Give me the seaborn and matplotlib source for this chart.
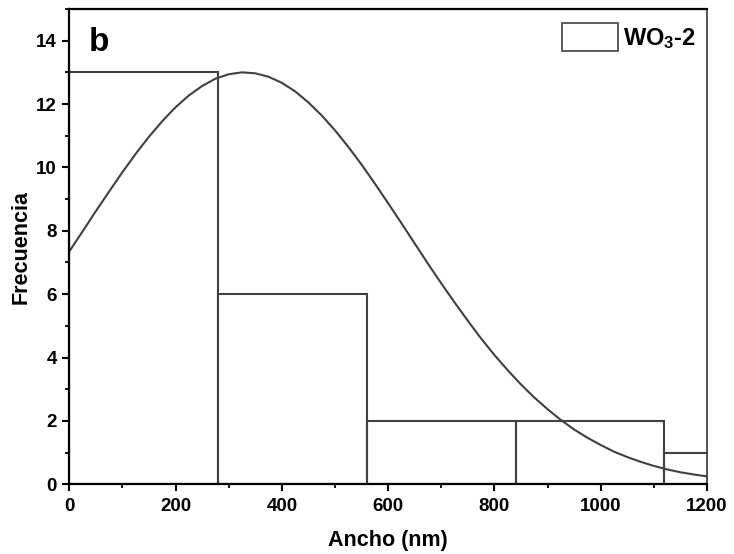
import numpy as np
import pandas as pd
import matplotlib
matplotlib.use("Agg")
import matplotlib.pyplot as plt
import seaborn as sns
from matplotlib.patches import Patch
from matplotlib.ticker import MultipleLocator

# --- DATA ---
bin_edges = [0, 280, 560, 840, 1120, 1400]
bin_counts = [13, 6, 2, 2, 1]
bin_centers = [140, 420, 700, 980, 1260]

# fitted normal curve
curve_x = [0, 25, 50, 75, 100, 125, 150, 175, 200, 225, 250, 275, 300,
           325, 350, 375, 400, 425, 450, 475, 500, 525, 550, 575, 600,
           625, 650, 675, 700, 725, 750, 775, 800, 825, 850, 875, 900,
           925, 950, 975, 1000, 1025, 1050, 1075, 1100, 1125, 1150, 1175, 1200]
curve_y = [7.35, 7.98, 8.62, 9.24, 9.85, 10.43, 10.97, 11.46, 11.90, 12.27,
           12.57, 12.80, 12.94, 13.00, 12.97, 12.86, 12.67, 12.40, 12.05, 11.64,
           11.17, 10.65, 10.09, 9.49, 8.87, 8.24, 7.60, 6.96, 6.34, 5.74,
           5.16, 4.60, 4.08, 3.60, 3.15, 2.74, 2.37, 2.03, 1.73, 1.47,
           1.24, 1.03, 0.86, 0.71, 0.58, 0.47, 0.38, 0.31, 0.25]

series_label = "WO$_\\mathbf{3}$-2"
panel_label = "b"

# --- STYLE ---
sns.set_style("ticks")
plt.rcParams['font.family'] = ['Liberation Sans', 'DejaVu Sans']
plt.rcParams['font.weight'] = 'bold'
plt.rcParams['text.color'] = 'black'
plt.rcParams['axes.labelcolor'] = 'black'
plt.rcParams['xtick.color'] = 'black'
plt.rcParams['ytick.color'] = 'black'
plt.rcParams['mathtext.fontset'] = 'custom'
plt.rcParams['mathtext.rm'] = 'Liberation Sans:bold'
plt.rcParams['mathtext.bf'] = 'Liberation Sans:bold'
plt.rcParams['mathtext.it'] = 'Liberation Sans:bold'

line_col = "#404040"

fig = plt.figure(figsize=(7.34, 5.54), dpi=100)
ax = fig.add_axes([0.0944, 0.1258, 0.8688, 0.858])

hist_df = pd.DataFrame({"ancho": bin_centers, "n": bin_counts})
sns.histplot(data=hist_df, x="ancho", weights="n", bins=bin_edges,
             fill=False, element="bars", color=line_col, linewidth=1.5, ax=ax)

curve_df = pd.DataFrame({"x": curve_x, "y": curve_y})
sns.lineplot(data=curve_df, x="x", y="y", color=line_col, linewidth=1.5, ax=ax)

ax.set_xlim(0, 1200)
ax.set_ylim(0, 15)
ax.xaxis.set_major_locator(MultipleLocator(200))
ax.xaxis.set_minor_locator(MultipleLocator(100))
ax.yaxis.set_major_locator(MultipleLocator(2))
ax.yaxis.set_minor_locator(MultipleLocator(1))
ax.tick_params(which='major', direction='out', length=5, width=1.5,
               labelsize=13.5, pad=4)
ax.tick_params(axis='x', which='major', pad=5)
ax.tick_params(which='minor', direction='out', length=3, width=1.3)
for lbl in ax.get_xticklabels() + ax.get_yticklabels():
    lbl.set_fontweight('bold')

for side in ['left', 'bottom', 'top']:
    ax.spines[side].set_linewidth(1.6)
    ax.spines[side].set_color('black')
ax.spines['right'].set_linewidth(1.2)
ax.spines['right'].set_color('#333333')

ax.set_xlabel("Ancho (nm)", fontsize=15.5, fontweight='bold', labelpad=11)
ax.set_ylabel("Frecuencia", fontsize=15.5, fontweight='bold', labelpad=3.5)

ax.text(0.031, 0.962, panel_label, transform=ax.transAxes, fontsize=24,
        fontweight='bold', va='top', ha='left')

handle = Patch(facecolor='white', edgecolor=line_col, linewidth=1.2)
leg = ax.legend([handle], [series_label], loc='upper right',
                bbox_to_anchor=(1.0, 0.992), frameon=False,
                handlelength=2.35, handleheight=1.45, handletextpad=0.25,
                borderpad=0.3, borderaxespad=0.15,
                prop={'weight': 'bold', 'size': 17})

fig.savefig("out.png", dpi=100)
plt.close(fig)
